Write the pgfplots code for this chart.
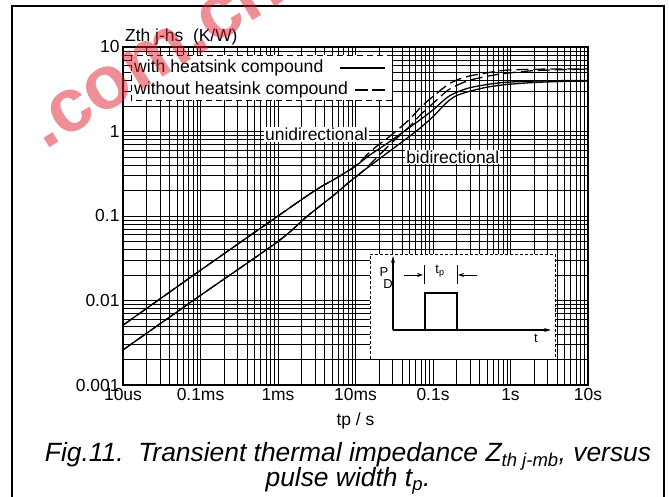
\documentclass[border=0pt]{standalone}
\usepackage{fontspec}
\setmainfont{Liberation Sans}
\usepackage{pgfplots}
\pgfplotsset{compat=1.18}
\usetikzlibrary{arrows.meta}
\definecolor{wmred}{RGB}{222,30,45}

\begin{document}
\begin{tikzpicture}[x=1bp,y=1bp]
\useasboundingbox (0,0) rectangle (669,497);
\begin{scope}
  \clip (0,0) rectangle (669,497);
  \draw[line width=2.2bp] (12,-5) -- (12,491) -- (664,491) -- (664,-5);
\end{scope}

\begin{axis}[
  at={(123bp,112bp)}, anchor=south west,
  scale only axis, width=465bp, height=338bp,
  xmode=log, ymode=log,
  xmin=1e-5, xmax=10, ymin=1e-3, ymax=10,
  xtick={1e-5,1e-4,1e-3,1e-2,1e-1,1,10},
  xticklabels={10us,0.1ms,1ms,10ms,0.1s,1s,10s},
  ytick={1e-3,1e-2,1e-1,1,10},
  yticklabels={0.001,0.01,0.1,1,10},
  minor xtick={2e-5,3e-5,4e-5,5e-5,6e-5,7e-5,8e-5,9e-5,
               2e-4,3e-4,4e-4,5e-4,6e-4,7e-4,8e-4,9e-4,
               2e-3,3e-3,4e-3,5e-3,6e-3,7e-3,8e-3,9e-3,
               2e-2,3e-2,4e-2,5e-2,6e-2,7e-2,8e-2,9e-2,
               0.2,0.3,0.4,0.5,0.6,0.7,0.8,0.9,
               2,3,4,5,6,7,8,9},
  minor ytick={2e-3,3e-3,4e-3,5e-3,6e-3,7e-3,8e-3,9e-3,
               2e-2,3e-2,4e-2,5e-2,6e-2,7e-2,8e-2,9e-2,
               0.2,0.3,0.4,0.5,0.6,0.7,0.8,0.9,
               2,3,4,5,6,7,8,9},
  grid=both,
  major grid style={black, line width=0.8bp},
  minor grid style={black, line width=0.65bp},
  major tick length=0pt, minor tick length=0pt,
  axis line style={black, line width=1.3bp},
  tick label style={font=\fontsize{17.5}{20}\selectfont},
  xlabel={tp / s},
  xlabel style={font=\fontsize{17.5}{20}\selectfont, yshift=-5bp},
]

% with heatsink compound, unidirectional
\addplot[black, line width=1.3bp, smooth] coordinates {
  (1e-5,0.0051) (1e-4,0.0228) (1e-3,0.1) (3e-3,0.2) (6e-3,0.29)
  (1e-2,0.39) (1.5e-2,0.52) (2e-2,0.62) (3e-2,0.8) (5e-2,1.12)
  (7e-2,1.4) (0.1,1.8) (0.15,2.5) (0.2,2.9) (0.3,3.3) (0.5,3.6)
  (0.7,3.75) (1,3.85) (2,3.95) (5,4.0) (10,4.0)
};

% without heatsink compound, unidirectional
\addplot[black, line width=1.3bp, smooth, dash pattern=on 12bp off 5bp] coordinates {
  (1e-5,0.0051) (1e-4,0.0228) (1e-3,0.1) (3e-3,0.2) (6e-3,0.29)
  (1e-2,0.39) (1.5e-2,0.56) (2e-2,0.7) (3e-2,0.93) (5e-2,1.4)
  (7e-2,1.95) (0.1,2.6) (0.15,3.5) (0.2,4.05) (0.3,4.55) (0.5,4.95)
  (0.7,5.2) (1,5.35) (2,5.45) (5,5.5) (10,5.5)
};

% with heatsink compound, bidirectional
\addplot[black, line width=1.3bp, smooth] coordinates {
  (1e-5,0.0026) (1e-4,0.0115) (1e-3,0.05) (2.4e-3,0.1) (5e-3,0.17)
  (8e-3,0.245) (1.2e-2,0.33) (2e-2,0.47) (3e-2,0.62) (5e-2,0.88)
  (7e-2,1.12) (0.1,1.5) (0.15,2.2) (0.2,2.65) (0.3,3.0) (0.5,3.35)
  (0.7,3.5) (1,3.63) (2,3.8) (5,3.92) (10,3.95)
};

% without heatsink compound, bidirectional
\addplot[black, line width=1.3bp, smooth, dash pattern=on 12bp off 5bp] coordinates {
  (1e-5,0.0026) (1e-4,0.0115) (1e-3,0.05) (2.4e-3,0.1) (5e-3,0.17)
  (8e-3,0.245) (1.2e-2,0.33) (2e-2,0.52) (3e-2,0.75) (5e-2,1.15)
  (7e-2,1.6) (0.1,2.15) (0.15,3.0) (0.2,3.5) (0.3,4.05) (0.5,4.5)
  (0.7,4.75) (1,4.95) (2,5.25) (5,5.4) (10,5.45)
};

\node[fill=white, inner sep=1bp, font=\fontsize{17.5}{20}\selectfont] at (axis cs:3.14e-3,0.93) {unidirectional};
\node[fill=white, inner sep=1bp, font=\fontsize{17.5}{20}\selectfont] at (axis cs:0.18,0.5) {bidirectional};
\end{axis}

\node[anchor=west, inner sep=0pt, font=\fontsize{17.5}{20}\selectfont] at (125,460) {Zth j-hs\ \ (K/W)};

% legend
\draw[dash pattern=on 6bp off 4bp, line width=0.8bp, fill=white] (131,442) rectangle (392,397);
\node[anchor=west, inner sep=0pt, font=\fontsize{17.7}{20}\selectfont] at (134,429) {with heatsink compound};
\node[anchor=west, inner sep=0pt, font=\fontsize{17.7}{20}\selectfont] at (134,407) {without heatsink compound};
\draw[line width=1.3bp] (340,429) -- (385,429);
\draw[line width=1.3bp, dash pattern=on 13bp off 4bp] (355,407) -- (385,407);

% pulse inset
\draw[dash pattern=on 3bp off 2bp, fill=white, line width=0.8bp] (370,138) rectangle (555,243);
\draw[line width=1.1bp, -{Stealth[length=7bp,width=4bp]}] (393,167) -- (393,241);
\draw[line width=1.1bp, -{Stealth[length=7bp,width=4bp]}] (393,167) -- (551,167);
\draw[line width=1.4bp] (393,167) -- (425,167) -- (425,204) -- (457,204) -- (457,167) -- (545,167);
\draw[line width=0.8bp] (424,213) -- (424,232);
\draw[line width=0.8bp] (457,213) -- (457,232);
\draw[line width=0.8bp, -{Stealth[length=6bp,width=4bp]}] (404,222) -- (423,222);
\draw[line width=0.8bp, -{Stealth[length=6bp,width=4bp]}] (477,222) -- (458,222);
\node[font=\fontsize{13}{15}\selectfont] at (440,226) {t\textsubscript{p}};
\node[font=\fontsize{13}{15}\selectfont] at (384,225) {P};
\node[font=\fontsize{13}{15}\selectfont] at (388,213) {D};
\node[font=\fontsize{13}{15}\selectfont] at (536,159) {t};

% caption
\node[font=\fontsize{26.5}{28}\selectfont\itshape] at (348,41) {Fig.11.\ \ Transient thermal impedance Z\textsubscript{th j-mb}, versus};
\node[font=\fontsize{26.5}{28}\selectfont\itshape] at (348,16) {pulse width t\textsubscript{p}.};

% watermark
\begin{scope}
  \clip (0,0) rectangle (669,497);
  \node[rotate=32, text=wmred, opacity=0.5, font=\fontsize{76}{80}\selectfont\bfseries] at (156,439) {.com.cn};
\end{scope}
\end{tikzpicture}
\end{document}
